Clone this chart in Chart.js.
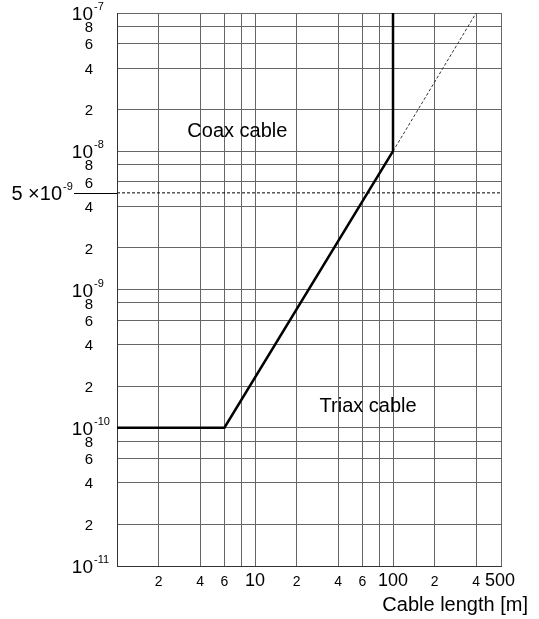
<!DOCTYPE html>
<html>
<head>
<meta charset="utf-8">
<script src="https://cdn.jsdelivr.net/npm/chart.js@4/dist/chart.umd.min.js"></script>
<style>
  html, body { margin: 0; padding: 0; background: #fff; }
  canvas { display: block; }
</style>
</head>
<body>
<canvas id="chart" width="539" height="619"></canvas>
<script>
// limit curve (thick line): flat, sloped, then vertical at 100 m
const limitX = [1, 6, 100, 100];
const limitY = [1e-10, 1e-10, 1e-8, 1e-7];
// extension of the slope (thin dashed)
const extX = [100, 400];
const extY = [1e-8, 1e-7];
// reference level (dashed horizontal)
const refLevel = 5e-9;

// axis ranges
const xMin = 1, xMax = 606;
const yMin = 1e-11, yMax = 1e-7;

// grid positions
const xGrid = [1, 2, 4, 6, 8, 10, 20, 40, 60, 80, 100, 200, 400, xMax];
const yMantissa = [1, 2, 4, 6, 8];
const yDecades = [-11, -10, -9, -8, -7];

// tick labels on x
const xTickValues = [2, 4, 6, 10, 20, 40, 60, 100, 200, 400, xMax];
const xTickLabels = ['2', '4', '6', '10', '2', '4', '6', '100', '2', '4', '500'];

// tick labels on y (mantissa digits between decades)
const yDigitLabels = [8, 6, 4, 2];

const FONT = '"Liberation Sans", Arial, sans-serif';

function yGridValues() {
  const vals = [];
  yDecades.forEach(d => {
    yMantissa.forEach(m => {
      const v = m * Math.pow(10, d);
      if (v <= yMax * 1.0001) vals.push(v);
    });
  });
  return vals;
}

const labelsPlugin = {
  id: 'labels',
  afterDraw(chart) {
    const ctx = chart.ctx;
    const xs = chart.scales.x;
    const ys = chart.scales.y;
    const area = chart.chartArea;
    ctx.save();
    ctx.fillStyle = '#000';
    ctx.textBaseline = 'middle';

    // y decade labels 10^n and digits
    const rightEdge = area.left - 24;
    yDecades.forEach(d => {
      const py = ys.getPixelForValue(Math.pow(10, d));
      ctx.font = '19px ' + FONT;
      ctx.textAlign = 'right';
      ctx.fillText('10', rightEdge, py + 2);
      ctx.font = '11px ' + FONT;
      ctx.textAlign = 'left';
      ctx.fillText(String(d), rightEdge + 1, py - 6);
      if (d < -7) {
        yDigitLabels.forEach(m => {
          const pm = ys.getPixelForValue(m * Math.pow(10, d));
          ctx.font = '15px ' + FONT;
          ctx.textAlign = 'right';
          ctx.fillText(String(m), rightEdge, pm + 1.5);
        });
      }
    });

    // the 5 x 10^-9 reference label with its lead line
    const pr = ys.getPixelForValue(refLevel);
    ctx.font = '20px ' + FONT;
    ctx.textAlign = 'right';
    ctx.fillText('5 \u00d710', 62, pr + 2);
    ctx.font = '11px ' + FONT;
    ctx.textAlign = 'left';
    ctx.fillText('-9', 63, pr - 6);
    ctx.strokeStyle = '#000';
    ctx.lineWidth = 1;
    ctx.beginPath();
    ctx.moveTo(74, Math.round(pr) + 0.5);
    ctx.lineTo(area.left, Math.round(pr) + 0.5);
    ctx.stroke();

    // x labels
    xTickValues.forEach((v, i) => {
      const px = xs.getPixelForValue(v);
      ctx.textAlign = 'center';
      if (xTickLabels[i].length > 1) {
        ctx.font = '18px ' + FONT;
        ctx.fillText(xTickLabels[i], i === xTickValues.length - 1 ? px - 1 : px, area.bottom + 15);
      } else {
        ctx.font = '14px ' + FONT;
        ctx.fillText(xTickLabels[i], px, area.bottom + 16);
      }
    });

    // axis title
    ctx.font = '20px ' + FONT;
    ctx.textAlign = 'right';
    ctx.fillText('Cable length [m]', 528, 605);

    // region annotations
    ctx.font = '20px ' + FONT;
    ctx.textAlign = 'center';
    ctx.fillText('Coax cable', xs.getPixelForValue(7.45), ys.getPixelForValue(1.385e-8));
    ctx.fillText('Triax cable', xs.getPixelForValue(66), ys.getPixelForValue(1.42e-10));
    ctx.restore();
  }
};

const gridColor = '#666';

new Chart(document.getElementById('chart'), {
  type: 'line',
  data: {
    datasets: [
      {
        data: limitX.map((x, i) => ({ x: x, y: limitY[i] })),
        borderColor: '#000',
        borderWidth: 2.5,
        pointRadius: 0,
        tension: 0
      },
      {
        data: extX.map((x, i) => ({ x: x, y: extY[i] })),
        borderColor: '#333',
        borderWidth: 1,
        borderDash: [3, 2],
        pointRadius: 0
      },
      {
        data: [{ x: xMin, y: refLevel }, { x: xMax, y: refLevel }],
        borderColor: '#000',
        borderWidth: 1,
        borderDash: [3, 2],
        pointRadius: 0
      }
    ]
  },
  options: {
    responsive: false,
    animation: false,
    layout: { padding: { left: 117, top: 13, right: 38, bottom: 53 } },
    plugins: { legend: { display: false }, tooltip: { enabled: false } },
    scales: {
      x: {
        type: 'logarithmic',
        min: xMin,
        max: xMax,
        afterBuildTicks: s => { s.ticks = xGrid.map(v => ({ value: v })); },
        ticks: { display: false },
        grid: { color: gridColor, lineWidth: 1, drawTicks: false },
        border: { color: '#333', width: 1 }
      },
      y: {
        type: 'logarithmic',
        min: yMin,
        max: yMax,
        afterBuildTicks: s => { s.ticks = yGridValues().map(v => ({ value: v })); },
        ticks: { display: false },
        grid: { color: gridColor, lineWidth: 1, drawTicks: false },
        border: { color: '#333', width: 1 }
      }
    }
  },
  plugins: [labelsPlugin]
});
</script>
</body>
</html>
